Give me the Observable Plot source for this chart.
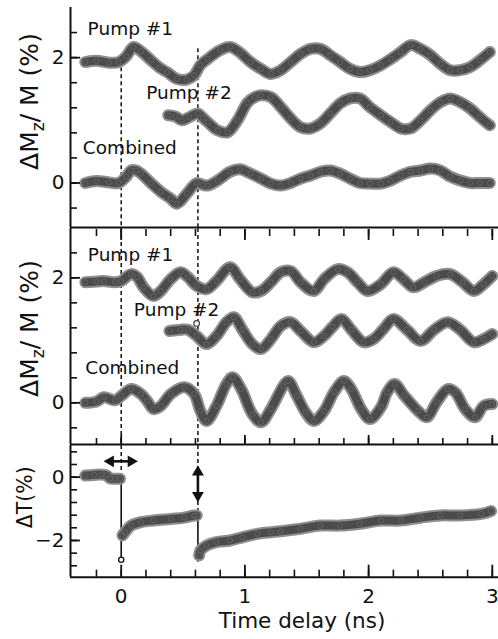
<!DOCTYPE html>
<html><head><meta charset="utf-8">
<script src="https://cdn.jsdelivr.net/npm/d3@7"></script>
<script src="https://cdn.jsdelivr.net/npm/@observablehq/plot@0.6"></script>
<style>
html,body{margin:0;padding:0;background:#fff;}
#chart{width:498px;height:639px;overflow:hidden;}
#chart svg{display:block;}
</style></head><body><div id="chart"></div>
<script>
// ---------- data: [time delay (ns), value (%)] ----------
const p1Pump1 = [[-0.29,1.93],[-0.2,1.95],[-0.1,1.92],[-0.02,1.93],[0.04,2.02],[0.10,2.17],[0.16,2.10],[0.24,1.96],[0.31,1.84],[0.37,1.77],[0.45,1.66],[0.53,1.65],[0.59,1.72],[0.64,1.88],[0.70,1.98],[0.80,2.12],[0.88,2.17],[0.96,2.08],[1.045,1.93],[1.13,1.82],[1.21,1.74],[1.29,1.80],[1.37,1.93],[1.45,2.06],[1.53,2.14],[1.61,2.14],[1.69,2.04],[1.77,1.93],[1.85,1.82],[1.93,1.77],[2.01,1.80],[2.10,1.88],[2.18,1.98],[2.26,2.09],[2.34,2.20],[2.42,2.14],[2.50,2.04],[2.58,1.90],[2.66,1.80],[2.74,1.80],[2.82,1.85],[2.90,1.96],[2.98,2.09]];
const p1Pump2 = [[0.38,1.08],[0.44,1.06],[0.49,1.00],[0.55,1.05],[0.62,1.11],[0.66,1.04],[0.70,0.97],[0.78,0.84],[0.86,0.81],[0.94,1.00],[1.02,1.28],[1.08,1.37],[1.13,1.40],[1.21,1.37],[1.29,1.21],[1.37,1.03],[1.45,0.89],[1.53,0.87],[1.61,0.95],[1.69,1.11],[1.77,1.27],[1.85,1.35],[1.93,1.35],[2.01,1.21],[2.10,1.08],[2.18,0.97],[2.26,0.87],[2.34,0.87],[2.42,1.00],[2.50,1.16],[2.58,1.29],[2.66,1.35],[2.74,1.29],[2.82,1.19],[2.90,1.05],[2.98,0.92]];
const p1Combined = [[-0.29,0.0],[-0.2,0.03],[-0.1,0.01],[-0.02,0.0],[0.04,0.10],[0.08,0.20],[0.12,0.20],[0.16,0.15],[0.24,0.0],[0.32,-0.14],[0.40,-0.25],[0.45,-0.33],[0.53,-0.17],[0.61,0.0],[0.66,-0.03],[0.70,-0.04],[0.78,0.04],[0.88,0.18],[0.96,0.22],[1.045,0.15],[1.13,0.07],[1.21,-0.01],[1.29,-0.04],[1.37,0.0],[1.45,0.07],[1.53,0.12],[1.61,0.18],[1.69,0.20],[1.77,0.15],[1.85,0.07],[1.93,0.0],[2.01,-0.01],[2.10,-0.01],[2.18,0.04],[2.26,0.12],[2.34,0.18],[2.42,0.20],[2.50,0.23],[2.58,0.20],[2.66,0.10],[2.74,0.04],[2.82,0.0],[2.90,0.0],[2.98,0.0]];

const p2Pump1 = [[-0.29,1.93],[-0.2,1.94],[-0.14,1.95],[-0.05,1.93],[0,1.95],[0.08,2.06],[0.13,2.01],[0.18,1.85],[0.26,1.71],[0.32,1.79],[0.40,1.98],[0.48,2.09],[0.54,2.01],[0.61,1.87],[0.69,1.82],[0.77,1.95],[0.88,2.17],[0.96,1.98],[1.06,1.77],[1.13,1.79],[1.21,1.93],[1.29,2.09],[1.37,2.11],[1.45,1.93],[1.557,1.79],[1.64,1.98],[1.75,2.14],[1.83,2.09],[1.91,1.93],[1.99,1.79],[2.10,1.90],[2.20,2.09],[2.28,1.98],[2.36,1.85],[2.45,1.93],[2.55,2.03],[2.66,2.06],[2.76,1.93],[2.85,1.79],[2.93,1.90],[3.00,2.03]];
const p2Pump2 = [[0.39,1.15],[0.48,1.17],[0.54,1.17],[0.61,1.07],[0.69,0.94],[0.77,1.07],[0.85,1.29],[0.91,1.37],[0.98,1.17],[1.06,0.94],[1.13,0.86],[1.21,1.02],[1.29,1.23],[1.37,1.29],[1.45,1.15],[1.557,0.97],[1.64,1.07],[1.71,1.22],[1.78,1.34],[1.86,1.17],[1.96,0.97],[2.04,1.02],[2.12,1.18],[2.20,1.34],[2.31,1.17],[2.42,0.99],[2.53,1.17],[2.64,1.29],[2.74,1.17],[2.85,0.97],[2.93,1.02],[3.00,1.10]];
const p2Pump2Outlier = [[0.61,1.27]];
const p2Combined = [[-0.29,0.0],[-0.2,0.02],[-0.14,0.09],[-0.05,0.04],[0,0.11],[0.08,0.22],[0.16,0.14],[0.21,0.03],[0.26,-0.10],[0.32,-0.05],[0.40,0.14],[0.51,0.25],[0.59,0.14],[0.64,-0.13],[0.69,-0.29],[0.77,-0.05],[0.85,0.30],[0.90,0.41],[0.97,0.22],[1.06,-0.18],[1.13,-0.31],[1.21,-0.10],[1.31,0.27],[1.35,0.35],[1.42,0.11],[1.49,-0.15],[1.557,-0.29],[1.64,-0.13],[1.72,0.17],[1.80,0.35],[1.86,0.22],[1.94,-0.10],[2.01,-0.26],[2.10,-0.07],[2.15,0.17],[2.21,0.30],[2.29,0.11],[2.40,-0.13],[2.47,-0.23],[2.55,0.01],[2.64,0.22],[2.70,0.17],[2.78,-0.10],[2.86,-0.23],[2.93,-0.05],[3.00,-0.02]];

const dTBefore = [[-0.29,0.05],[-0.22,0.07],[-0.16,0.08],[-0.12,0.06],[-0.09,-0.04],[-0.05,-0.05],[-0.01,-0.05]];
const dTAfter1 = [[0.01,-1.84],[0.03,-1.74],[0.08,-1.53],[0.16,-1.42],[0.26,-1.37],[0.40,-1.32],[0.51,-1.28],[0.59,-1.21],[0.61,-1.21]];
const dTAfter2 = [[0.63,-2.47],[0.64,-2.32],[0.69,-2.16],[0.77,-2.05],[0.88,-2.0],[0.98,-1.90],[1.10,-1.79],[1.21,-1.74],[1.29,-1.71],[1.45,-1.63],[1.61,-1.53],[1.77,-1.53],[1.93,-1.47],[2.10,-1.37],[2.26,-1.37],[2.42,-1.28],[2.58,-1.21],[2.74,-1.21],[2.91,-1.16],[2.99,-1.07]];
const dTDropTimes = [0, 0.62];
const dTDropFrom = [-0.05, -1.21];
const dTDropTo = [-2.61, -2.69];

// pump arrival times (dashed markers)
const pumpTimes = [0, 0.62];
const p1DashTop = [1.84, 2.14];
const p3DashBottom = [-0.05, -1.21];

// tick values
const xMinorTicks = [-0.2,0,0.2,0.4,0.6,0.8,1,1.2,1.4,1.6,1.8,2,2.2,2.4,2.6,2.8,3];
const xMajorTicks = [0,1,2,3];
const yMinorTicksM = [-0.4,0,0.4,0.8,1.2,1.6,2,2.4];
const yMajorTicksM = [0,2];
const yMinorTicksT = [0.8,0.4,0,-0.4,-0.8,-1.2,-1.6,-2,-2.4,-2.8];
const yMajorTicksT = [0,-2];

// labels
const seriesLabels = ["Pump #1","Pump #2","Combined"];
const yTitleM = "ΔMz/ M (%)";
const yTitleT = "ΔT(%)";
const xTitle = "Time delay (ns)";

// ---------- layout ----------
const FONT = "DejaVu Sans";
const xDomain = [-0.41, 3.05];
const yDomM1 = [-0.71, 2.80];
const yDomM2 = [-0.667, 2.79];
const yDomT = [-3.16, 1.0];
const INK = "#111";
const fmt = d => d < 0 ? "\u2212" + (-d) : String(d);

function band(data) {
  const o = {x: d => d[0], y: d => d[1], curve: "catmull-rom", strokeLinecap: "round", strokeLinejoin: "round"};
  return [
    Plot.line(data, {...o, stroke: "#8f8f8f", strokeWidth: 12}),
    Plot.line(data, {...o, stroke: "#4b4b4b", strokeWidth: 8}),
    Plot.dot(data, {x: d => d[0], y: d => d[1], r: 2.6, stroke: "#6a6a6a", strokeWidth: 0.8, fill: "none"})
  ];
}

function yAxisMarks(minor, major) {
  return [
    Plot.axisY(minor, {anchor: "left", tickSize: -7, strokeWidth: 1.6, stroke: INK, fill: "none"}),
    Plot.axisY(major, {anchor: "left", tickSize: -10, strokeWidth: 1.8, stroke: INK, fill: "none"}),
    Plot.axisY(major, {anchor: "left", tickSize: 0, tickPadding: 6, fontSize: 20, fill: INK, label: null, tickFormat: fmt})
  ];
}
function xTicks(anchor, minorLen, majorLen) {
  return [
    Plot.axisX(xMinorTicks, {anchor, tickSize: -minorLen, strokeWidth: 1.6, stroke: INK, fill: "none"}),
    Plot.axisX(xMajorTicks, {anchor, tickSize: -majorLen, strokeWidth: 1.8, stroke: INK, fill: "none"})
  ];
}
function labelMark(text, t, v) {
  return Plot.text([text], {x: () => t, y: () => v, text: d => d, textAnchor: "start", lineAnchor: "middle", fontSize: 18.5, fill: INK});
}
function yTitle(text, dx, dy, fontSize) {
  return Plot.text([text], {frameAnchor: "left", textAnchor: "middle", lineAnchor: "middle", dx, dy, rotate: -90, fontSize, fill: INK, text: d => d});
}

function makePlot(height, marginTop, marginBottom, yDomain, marks) {
  return Plot.plot({
    width: 498, height, marginLeft: 70, marginRight: 0, marginTop, marginBottom,
    x: {domain: xDomain, axis: null},
    y: {domain: yDomain, axis: null},
    style: {fontFamily: FONT, background: "white", overflow: "visible", color: INK},
    marks
  });
}

const dashStyle = {stroke: INK, strokeWidth: 1.5, strokeDasharray: "4,3"};

// ---------- panel 1 ----------
const plot1 = makePlot(228, 7, 1, yDomM1, [
  Plot.ruleX(pumpTimes, {x: d => d, y1: (d, i) => p1DashTop[i], y2: yDomM1[0], ...dashStyle}),
  ...band(p1Pump1), ...band(p1Pump2), ...band(p1Combined),
  labelMark(seriesLabels[0], -0.272, 2.45),
  labelMark(seriesLabels[1], 0.202, 1.43),
  labelMark(seriesLabels[2], -0.31, 0.556),
  Plot.ruleX([xDomain[0]], {stroke: INK, strokeWidth: 2}),
  Plot.ruleY([yDomM1[0]], {stroke: INK, strokeWidth: 2}),
  ...yAxisMarks(yMinorTicksM, yMajorTicksM),
  yTitle(yTitleM, -41, -16, 25)
]);

// ---------- panel 2 ----------
const plot2 = makePlot(217, 0, 1, yDomM2, [
  Plot.ruleX(pumpTimes, {x: d => d, y1: yDomM2[1], y2: yDomM2[0], ...dashStyle}),
  ...band(p2Pump1), ...band(p2Pump2), ...band(p2Combined),
  Plot.dot(p2Pump2Outlier, {x: d => d[0], y: d => d[1], r: 2.8, stroke: "#444", strokeWidth: 1.2, fill: "white"}),
  labelMark(seriesLabels[0], -0.27, 2.37),
  labelMark(seriesLabels[1], 0.102, 1.48),
  labelMark(seriesLabels[2], -0.29, 0.55),
  Plot.ruleX([xDomain[0]], {stroke: INK, strokeWidth: 2}),
  Plot.ruleY([yDomM2[0]], {stroke: INK, strokeWidth: 2}),
  ...yAxisMarks(yMinorTicksM, yMajorTicksM),
  ...xTicks("top", 7, 11),
  ...xTicks("bottom", 6, 9),
  yTitle(yTitleM, -41, -8, 25)
]);

// ---------- panel 3 ----------
const arrowShaftH = [{y: 0.5, x1: -0.10, x2: 0.10}];
const arrowHeadsH = [{x: -0.087, y: 0.5, r: 270}, {x: 0.080, y: 0.5, r: 90}];
const arrowShaftV = [{x: 0.62, y1: 0.2, y2: -0.62}];
const arrowHeadsV = [{x: 0.62, y: 0.16, r: 0}, {x: 0.62, y: -0.58, r: 180}];

const plot3 = makePlot(194, 0, 62.3, yDomT, [
  Plot.ruleX(pumpTimes, {x: d => d, y1: yDomT[1], y2: (d, i) => p3DashBottom[i], ...dashStyle}),
  Plot.ruleX(dTDropTimes, {x: d => d, y1: (d, i) => dTDropFrom[i], y2: (d, i) => dTDropTo[i], stroke: INK, strokeWidth: 1.6}),
  ...band(dTBefore), ...band(dTAfter1), ...band(dTAfter2),
  Plot.dot([dTDropTimes[0]], {x: d => d, y: () => dTDropTo[0], r: 2.6, stroke: INK, strokeWidth: 1.3, fill: "white"}),
  Plot.ruleY(arrowShaftH, {y: "y", x1: "x1", x2: "x2", stroke: INK, strokeWidth: 2.6}),
  Plot.dot(arrowHeadsH, {x: "x", y: "y", rotate: "r", symbol: "triangle", r: 4.4, fill: INK, stroke: "none"}),
  Plot.ruleX(arrowShaftV, {x: "x", y1: "y1", y2: "y2", stroke: INK, strokeWidth: 2.6}),
  Plot.dot(arrowHeadsV, {x: "x", y: "y", rotate: "r", symbol: "triangle", r: 4.4, fill: INK, stroke: "none"}),
  Plot.ruleX([xDomain[0]], {stroke: INK, strokeWidth: 2}),
  Plot.ruleY([yDomT[0]], {stroke: INK, strokeWidth: 2}),
  ...yAxisMarks(yMinorTicksT, yMajorTicksT),
  ...xTicks("bottom", 7, 12),
  Plot.axisX(xMajorTicks, {anchor: "bottom", tickSize: 0, tickPadding: 12, fontSize: 20, fill: INK, label: null, tickFormat: fmt}),
  yTitle(yTitleT, -45, -14, 20.5),
  Plot.text([xTitle], {frameAnchor: "bottom", textAnchor: "middle", lineAnchor: "middle", dx: 17.5, dy: 44, fontSize: 21.5, fill: INK, text: d => d})
]);

// subscript z in the magnetization titles
function subscriptify(svg) {
  d3.select(svg).selectAll("text").each(function () {
    if (this.textContent === yTitleM) {
      const t = d3.select(this);
      t.text(null);
      t.append("tspan").text("ΔM");
      t.append("tspan").attr("font-size", "0.68em").attr("dy", "6").text("z");
      t.append("tspan").attr("dy", "-6").text("/ M (%)");
    }
  });
}
[plot1, plot2, plot3].forEach(p => { subscriptify(p); document.getElementById("chart").appendChild(p); });
</script>
</body></html>
